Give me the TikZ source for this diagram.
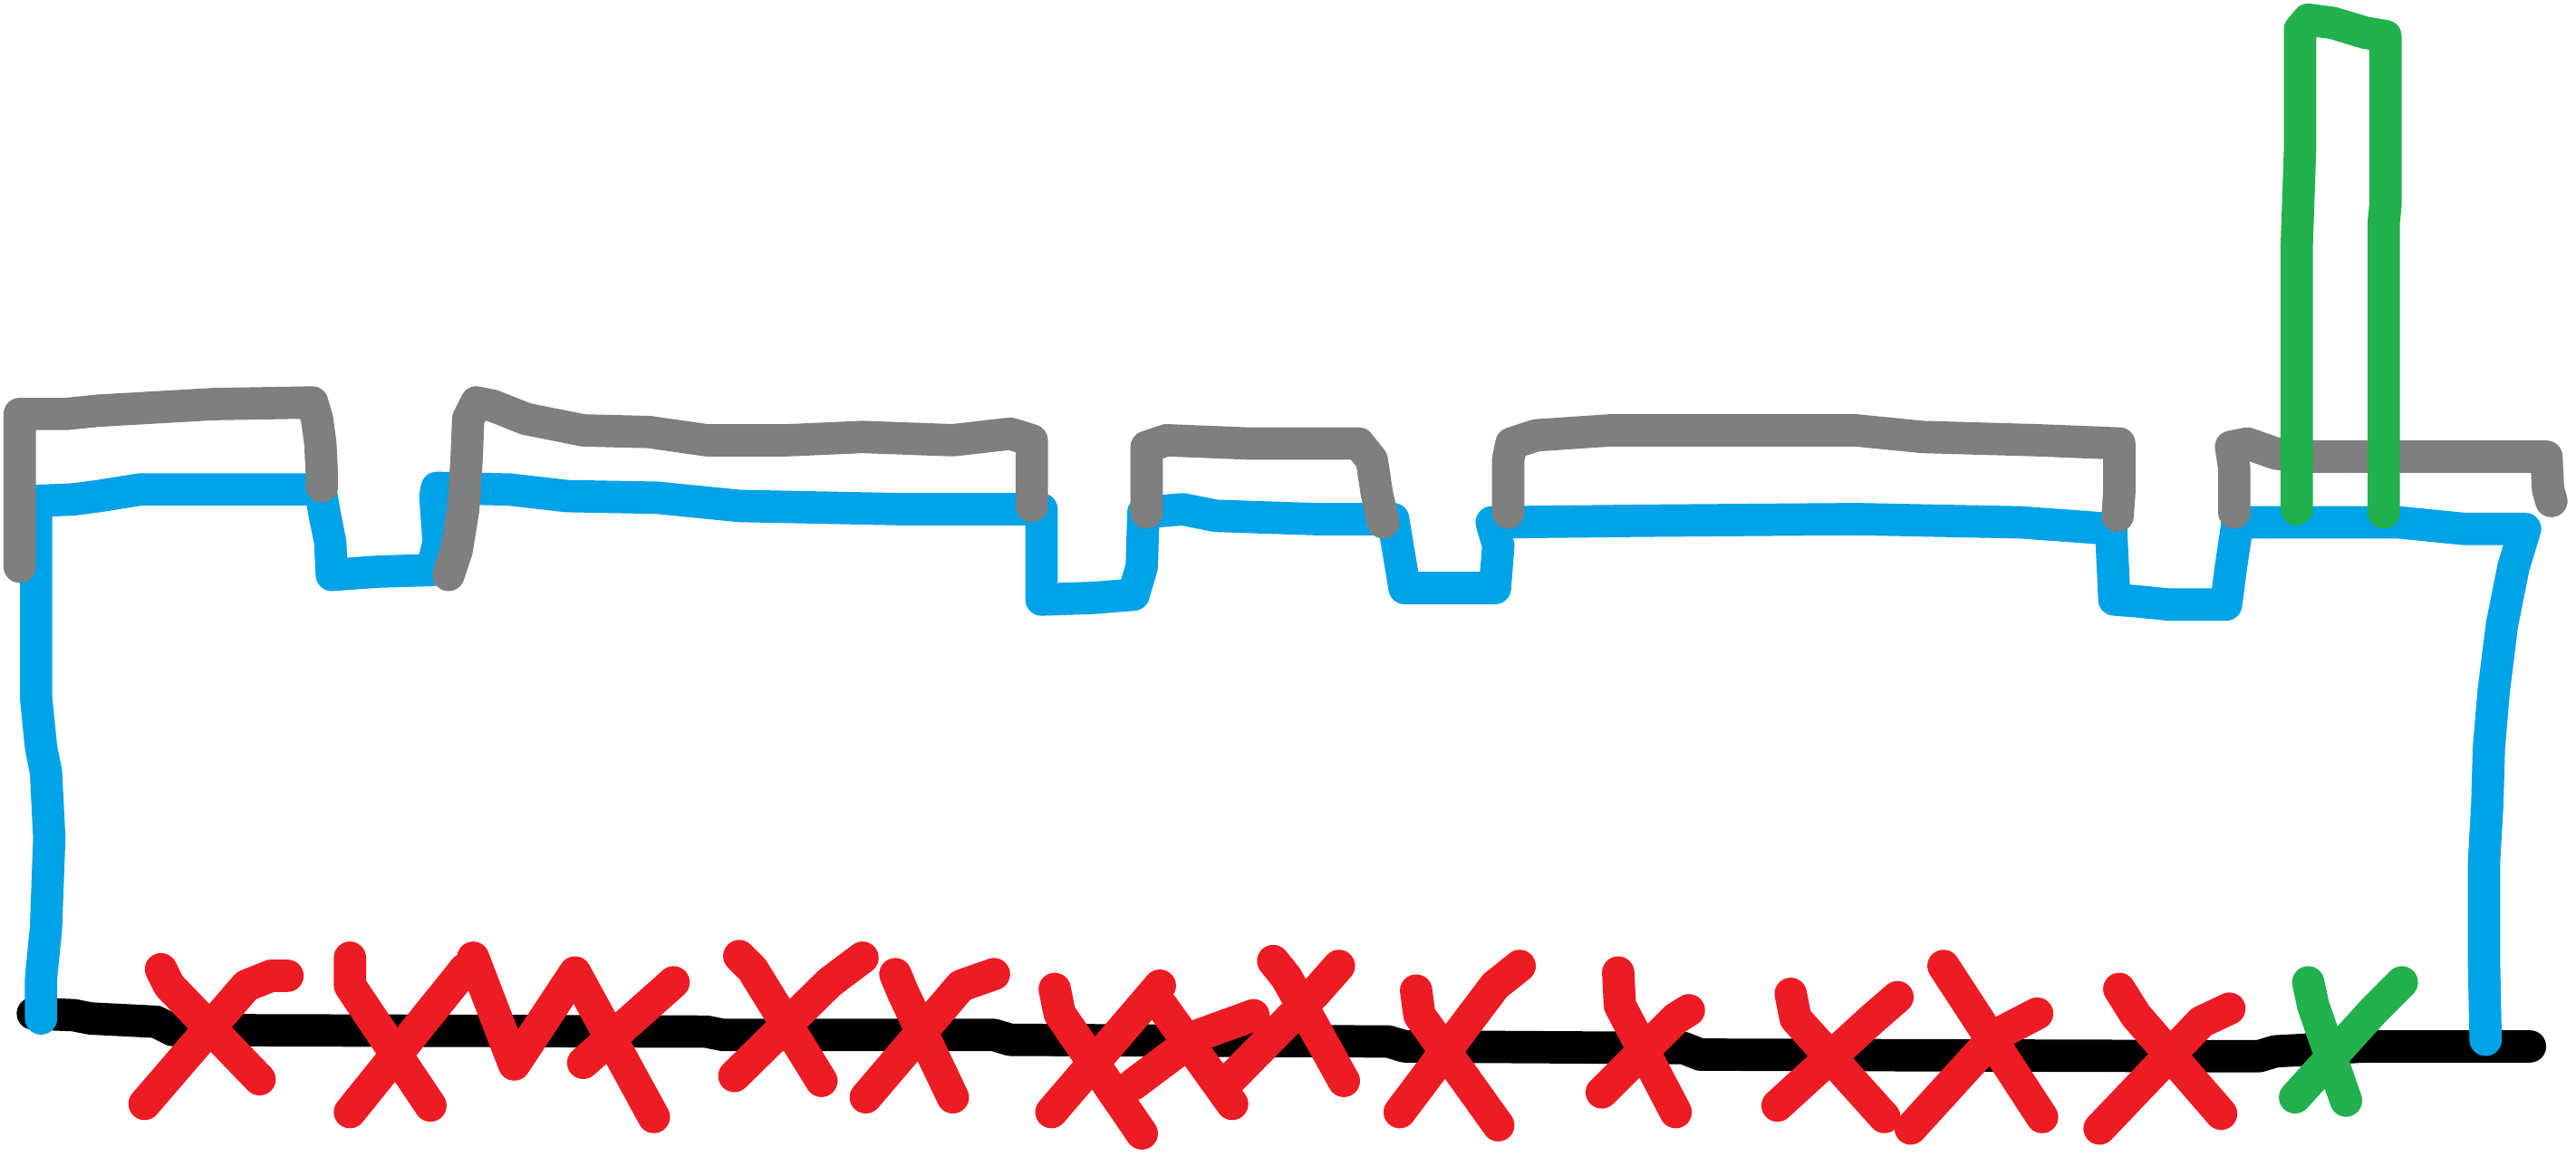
\documentclass[tikz,border=0pt]{standalone}
\usepackage{tikz}
\usetikzlibrary{calc}

\definecolor{paintblue}{HTML}{00A2E8}
\definecolor{paintgray}{HTML}{7F7F7F}
\definecolor{paintred}{HTML}{ED1C24}
\definecolor{paintgreen}{HTML}{22B14C}

\begin{document}
\begin{tikzpicture}[
  x=0.01cm, y=-0.01cm,
  stroke/.style={line width=5.6pt, line cap=round, line join=round},
  ground/.style={stroke, draw=black},
  hull/.style={stroke, draw=paintblue},
  deck/.style={stroke, draw=paintgray},
  funnel/.style={stroke, draw=paintgreen},
  badcross/.style={stroke, draw=paintred},
  goodcross/.style={stroke, draw=paintgreen}
]
\useasboundingbox (0,0) rectangle (1568,704);

% ground line
\draw[ground] (20,617) -- (45,618) -- (55,620) -- (95,622) -- (105,627) -- (430,628)
  -- (440,630) -- (605,630) -- (615,633) -- (845,634) -- (855,637) -- (1025,638)
  -- (1035,642) -- (1375,643) -- (1385,640) -- (1440,637) -- (1540,637);

% hull outline
\draw[hull] (25,620) -- (25,595) -- (28,565) -- (30,510) -- (28,470) -- (25,455)
  -- (22,425) -- (22,340) -- (22,305) -- (45,304) -- (60,302) -- (85,298) -- (195,298)
  -- (198,315) -- (201,330) -- (202,350) -- (230,348) -- (263,347) -- (267,330)
  -- (265,302) -- (266,297) -- (310,298) -- (345,302) -- (400,303) -- (450,308)
  -- (550,310) -- (634,310) -- (634,365) -- (665,364) -- (690,362) -- (695,345)
  -- (696,312) -- (720,310) -- (740,314) -- (800,316) -- (848,316) -- (852,340)
  -- (855,358) -- (880,358) -- (910,358) -- (912,332) -- (908,318) -- (1000,317)
  -- (1130,316) -- (1230,318) -- (1285,322) -- (1287,365) -- (1300,366) -- (1320,368)
  -- (1355,368) -- (1358,345) -- (1362,318) -- (1460,318) -- (1500,322) -- (1537,322)
  -- (1530,345) -- (1523,380) -- (1518,420) -- (1515,455) -- (1514,490) -- (1512,525)
  -- (1512,585) -- (1513,633);

% deck houses
\draw[deck] (12,345) -- (12,252) -- (40,252) -- (60,250) -- (95,248) -- (130,246)
  -- (190,245) -- (193,255) -- (195,270) -- (196,290) -- (196,296);
\draw[deck] (273,350) -- (278,335) -- (282,310) -- (284,280) -- (285,255) -- (290,245)
  -- (300,247) -- (320,255) -- (355,262) -- (395,263) -- (430,268) -- (480,268)
  -- (525,266) -- (580,268) -- (615,264) -- (628,268) -- (628,308);
\draw[deck] (698,312) -- (698,272) -- (710,268) -- (760,270) -- (827,270) -- (835,280)
  -- (838,300) -- (842,318);
\draw[deck] (918,312) -- (918,280) -- (920,270) -- (935,265) -- (980,262) -- (1130,262)
  -- (1170,266) -- (1240,268) -- (1290,270) -- (1290,300) -- (1289,314);
\draw[deck] (1360,312) -- (1360,285) -- (1358,272) -- (1368,270) -- (1385,276)
  -- (1398,278) -- (1550,278) -- (1551,298) -- (1553,305);

% funnel
\draw[funnel] (1398,310) -- (1398,150) -- (1400,92) -- (1400,18) -- (1405,12)
  -- (1420,14) -- (1440,20) -- (1452,22) -- (1452,125) -- (1451,135) -- (1451,312);

% crosses
\draw[badcross] (98,590) -- (103,600) -- (158,657)  (88,672) -- (150,600) -- (165,594) -- (175,594);
\draw[badcross] (213,583) -- (213,600) -- (262,673)  (213,677) -- (283,590);
\draw[badcross] (288,583) -- (313,648) -- (350,592) -- (398,680)  (355,647) -- (410,598);
\draw[badcross] (450,582) -- (458,590) -- (500,658)  (447,655) -- (505,598) -- (525,583);
\draw[badcross] (545,593) -- (550,605) -- (580,668)  (527,668) -- (585,600) -- (605,593);
\draw[badcross] (642,602) -- (645,617) -- (695,690)  (640,677) -- (706,600);
\draw[badcross] (707,612) -- (750,672)  (690,660) -- (730,630) -- (763,618);
\draw[badcross] (775,585) -- (783,595) -- (818,658)  (748,658) -- (800,605) -- (815,588);
\draw[badcross] (862,603) -- (864,618) -- (912,685)  (852,677) -- (910,600) -- (925,588);
\draw[badcross] (985,592) -- (986,612) -- (1020,677)  (975,665) -- (1020,620) -- (1028,615);
\draw[badcross] (1090,605) -- (1093,620) -- (1147,680)  (1082,673) -- (1140,620) -- (1155,607);
\draw[badcross] (1183,588) -- (1243,680)  (1163,687) -- (1215,630) -- (1240,617);
\draw[badcross] (1290,602) -- (1300,618) -- (1352,678)  (1278,687) -- (1340,622) -- (1357,614);
\draw[goodcross] (1405,598) -- (1408,612) -- (1428,670)  (1397,668) -- (1445,615) -- (1462,598);

\end{tikzpicture}
\end{document}
